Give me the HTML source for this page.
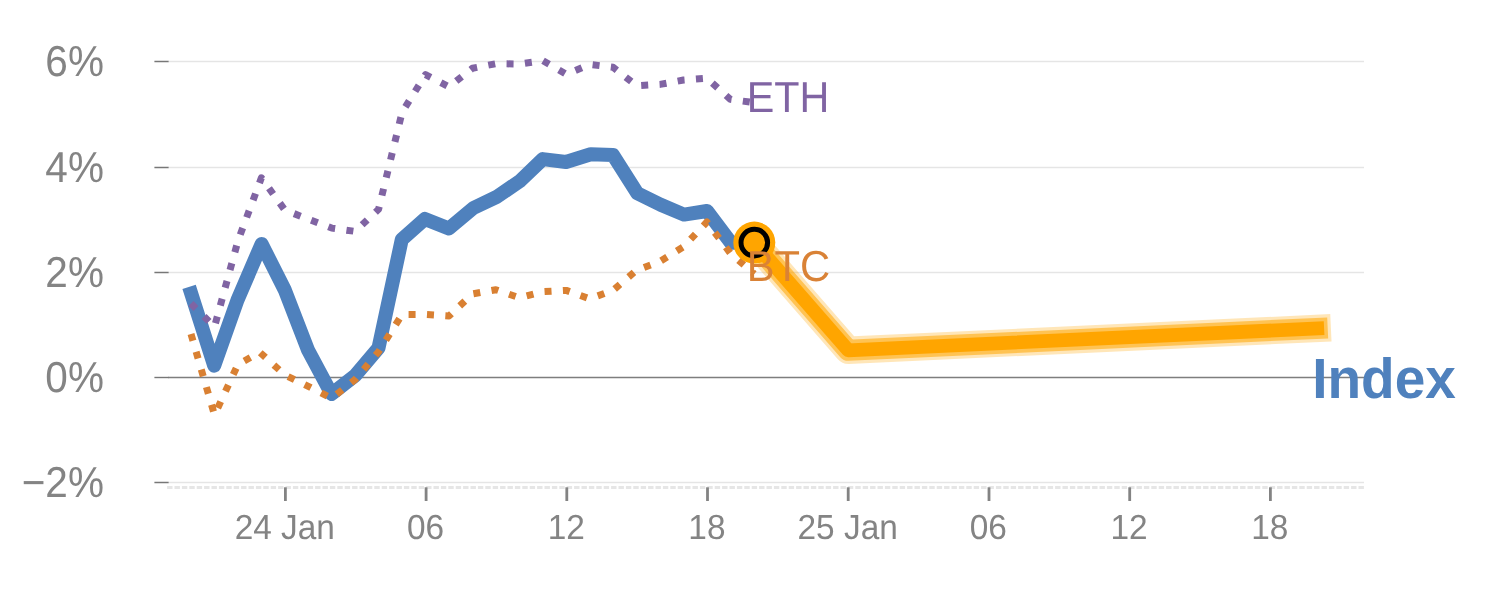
<!DOCTYPE html>
<html><head><meta charset="utf-8"><title>Index chart</title>
<style>
html,body{margin:0;padding:0;background:#fff;}
body{width:1500px;height:600px;overflow:hidden;}
svg{display:block;}
text{font-family:"Liberation Sans",sans-serif;text-rendering:geometricPrecision;}
</style></head><body>
<svg width="1500" height="600" viewBox="0 0 1500 600">
<rect width="1500" height="600" fill="#fff"/>
<line x1="168" x2="1364" y1="61.50" y2="61.50" stroke="#e5e5e5" stroke-width="1.5"/>
<line x1="154.4" x2="168.6" y1="61.50" y2="61.50" stroke="#777" stroke-width="1.5"/>
<text transform="translate(103.90 75.70) scale(1 1.068)" font-size="40.5" fill="#848484" text-anchor="end">6%</text>
<line x1="168" x2="1364" y1="167.50" y2="167.50" stroke="#e5e5e5" stroke-width="1.5"/>
<line x1="154.4" x2="168.6" y1="167.50" y2="167.50" stroke="#777" stroke-width="1.5"/>
<text transform="translate(103.90 181.70) scale(1 1.068)" font-size="40.5" fill="#848484" text-anchor="end">4%</text>
<line x1="168" x2="1364" y1="272.50" y2="272.50" stroke="#e5e5e5" stroke-width="1.5"/>
<line x1="154.4" x2="168.6" y1="272.50" y2="272.50" stroke="#777" stroke-width="1.5"/>
<text transform="translate(103.90 286.70) scale(1 1.068)" font-size="40.5" fill="#848484" text-anchor="end">2%</text>
<line x1="168" x2="1364" y1="377.50" y2="377.50" stroke="#7e7e7e" stroke-width="1.5"/>
<line x1="154.4" x2="168.6" y1="377.50" y2="377.50" stroke="#777" stroke-width="1.4"/>
<text transform="translate(103.90 391.70) scale(1 1.068)" font-size="40.5" fill="#848484" text-anchor="end">0%</text>
<line x1="168" x2="1364" y1="482.50" y2="482.50" stroke="#e5e5e5" stroke-width="1.5"/>
<line x1="154.4" x2="168.6" y1="482.50" y2="482.50" stroke="#777" stroke-width="1.5"/>
<text transform="translate(103.90 496.70) scale(1 1.068)" font-size="40.5" fill="#848484" text-anchor="end">−2%</text>
<line x1="167.1" x2="1365" y1="487.5" y2="487.5" stroke="#e6e6e6" stroke-width="3" stroke-dasharray="5.4 2"/>
<line x1="285.4" x2="285.4" y1="487.3" y2="501" stroke="#838383" stroke-width="2.8"/>
<text transform="translate(284.80 538.90) scale(1 1.043)" font-size="33.4" fill="#848484" text-anchor="middle">24 Jan</text>
<line x1="426.1" x2="426.1" y1="487.3" y2="501" stroke="#838383" stroke-width="2.8"/>
<text transform="translate(425.51 538.90) scale(1 1.043)" font-size="33.4" fill="#848484" text-anchor="middle">06</text>
<line x1="566.8" x2="566.8" y1="487.3" y2="501" stroke="#838383" stroke-width="2.8"/>
<text transform="translate(566.22 538.90) scale(1 1.043)" font-size="33.4" fill="#848484" text-anchor="middle">12</text>
<line x1="707.5" x2="707.5" y1="487.3" y2="501" stroke="#838383" stroke-width="2.8"/>
<text transform="translate(706.93 538.90) scale(1 1.043)" font-size="33.4" fill="#848484" text-anchor="middle">18</text>
<line x1="848.2" x2="848.2" y1="487.3" y2="501" stroke="#838383" stroke-width="2.8"/>
<text transform="translate(847.64 538.90) scale(1 1.043)" font-size="33.4" fill="#848484" text-anchor="middle">25 Jan</text>
<line x1="989.0" x2="989.0" y1="487.3" y2="501" stroke="#838383" stroke-width="2.8"/>
<text transform="translate(988.35 538.90) scale(1 1.043)" font-size="33.4" fill="#848484" text-anchor="middle">06</text>
<line x1="1129.7" x2="1129.7" y1="487.3" y2="501" stroke="#838383" stroke-width="2.8"/>
<text transform="translate(1129.06 538.90) scale(1 1.043)" font-size="33.4" fill="#848484" text-anchor="middle">12</text>
<line x1="1270.4" x2="1270.4" y1="487.3" y2="501" stroke="#838383" stroke-width="2.8"/>
<text transform="translate(1269.77 538.90) scale(1 1.043)" font-size="33.4" fill="#848484" text-anchor="middle">18</text>
<path d="M754.3,242.6 L848.2,350.3 L1317.2,328.4" fill="none" stroke="#ffa500" stroke-opacity="0.28" stroke-width="27.4" stroke-linejoin="round" stroke-linecap="square"/>
<path d="M754.3,242.6 L848.2,350.3 L1317.2,328.4" fill="none" stroke="#ffa500" stroke-opacity="0.55" stroke-width="21" stroke-linejoin="round" stroke-linecap="square"/>
<path d="M754.3,242.6 L848.2,350.3 L1317.2,328.4" fill="none" stroke="#ffa500" stroke-opacity="1" stroke-width="13.8" stroke-linejoin="round" stroke-linecap="square"/>
<path d="M189.1,286.8 L214.2,365.7 L237.5,300.0 L261.6,243.9 L284.8,290.0 L308.0,350.0 L331.5,394.0 L355.2,375.5 L378.5,348.0 L401.8,239.4 L424.9,218.9 L448.9,228.5 L473.4,208.0 L496.2,197.2 L520.0,181.0 L542.8,159.1 L566.0,162.0 L590.7,154.3 L613.0,155.0 L637.3,193.3 L660.7,204.8 L684.0,214.6 L707.0,211.0 L730.9,242.8 L754.3,242.6" fill="none" stroke="#4f81bd" stroke-width="14" stroke-linejoin="round"/>
<path d="M191.0,303.5 L214.5,326.8 L237.9,241.0 L261.4,177.8 L284.8,210.0 L308.3,219.2 L331.7,228.1 L355.2,231.4 L378.6,209.2 L402.1,112.2 L425.5,74.7 L449.0,86.8 L472.4,68.3 L495.9,63.7 L519.3,64.0 L542.8,60.6 L566.2,74.3 L589.7,64.4 L613.1,67.3 L636.6,85.8 L660.0,84.4 L683.5,80.0 L706.9,78.2 L730.4,99.4 L754.3,102.7" fill="none" stroke="#8064a3" stroke-width="7" stroke-dasharray="7 11.4" stroke-linejoin="round"/>
<path d="M191.0,334.1 L214.5,415.0 L237.9,364.5 L259.8,352.3 L284.8,374.9 L308.3,386.4 L331.7,398.3 L355.2,379.5 L378.6,351.7 L402.1,314.5 L425.5,314.5 L449.0,316.0 L472.4,294.0 L495.9,289.7 L519.3,297.7 L542.8,291.7 L566.2,290.4 L589.7,298.8 L613.1,290.3 L636.6,270.2 L660.0,261.4 L683.5,246.8 L706.9,222.0 L730.4,253.3 L754.3,274.0" fill="none" stroke="#d98032" stroke-width="7" stroke-dasharray="7 11.4" stroke-linejoin="round"/>
<circle cx="754.3" cy="242.6" r="21" fill="#ffa500"/>
<circle cx="754.3" cy="242.6" r="13.3" fill="#ffa500" stroke="#000" stroke-width="5"/>
<text transform="translate(746.70 111.90) scale(1 1.048)" font-size="41.3" fill="#8064a3" text-anchor="start">ETH</text>
<text transform="translate(746.70 280.80) scale(1 1.036)" font-size="41.8" fill="#d98236" text-anchor="start">BTC</text>
<text transform="translate(1312.20 397.75) scale(1 1.030)" font-size="55" fill="#4f81bd" text-anchor="start" font-weight="bold">Index</text>
</svg>
</body></html>
